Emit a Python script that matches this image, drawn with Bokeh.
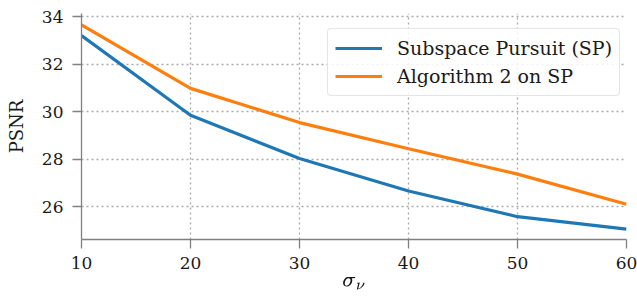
from bokeh.plotting import figure
from bokeh.models import Range1d, FixedTicker, Legend, LegendItem, TeX
from bokeh.embed import file_html
from bokeh.resources import INLINE

sigma = [10, 20, 30, 40, 50, 60]
sp = [33.20, 29.85, 28.03, 26.66, 25.58, 25.06]
alg2 = [33.65, 30.98, 29.54, 28.44, 27.37, 26.10]
x_ticks = [10, 20, 30, 40, 50, 60]
y_ticks = [26, 28, 30, 32, 34]
names = ["Subspace Pursuit (SP)", "Algorithm 2 on SP"]
colors = ["#1f77b4", "#ff7f0e"]
x_label = r"\sigma_\nu"
y_label = "PSNR"

FONT = "DejaVu Serif"
Y0, Y1 = 24.62, 34.13

p = figure(width=637, height=303, output_backend="svg", toolbar_location=None,
           x_range=Range1d(10, 60), y_range=Range1d(Y0, Y1),
           min_border_left=81, min_border_right=11, min_border_top=13, min_border_bottom=64)
p.outline_line_color = None
p.background_fill_color = "white"

r1 = p.line(sigma, sp, line_color=colors[0], line_width=3.2)
r2 = p.line(sigma, alg2, line_color=colors[1], line_width=3.2)

for ax in (p.xaxis[0], p.yaxis[0]):
    ax.axis_line_color = "#808080"
    ax.axis_line_width = 1.3
    ax.major_tick_line_color = "#808080"
    ax.major_tick_line_width = 1.3
    ax.major_tick_out = 9
    ax.major_tick_in = 0
    ax.minor_tick_line_color = None
    ax.major_label_text_font = FONT
    ax.major_label_text_font_size = "17px"
    ax.major_label_text_color = "#1a1a1a"
    ax.axis_label_text_font = FONT
    ax.axis_label_text_font_size = "18px"
    ax.axis_label_text_font_style = "normal"
    ax.axis_label_text_color = "#1a1a1a"

p.xaxis.ticker = FixedTicker(ticks=x_ticks)
p.yaxis.ticker = FixedTicker(ticks=y_ticks)
p.xaxis.major_label_standoff = 8
p.yaxis.major_label_standoff = 9
p.yaxis.axis_label = y_label
p.yaxis.axis_label_standoff = 12
p.xaxis.axis_label = TeX(text=x_label)
p.xaxis.axis_label_standoff = 5
p.xaxis.axis_label_text_font_size = "19px"

for g in (p.xgrid[0], p.ygrid[0]):
    g.grid_line_color = "#aaaaaa"
    g.grid_line_dash = "2 3"
    g.grid_line_width = 1.3

p.xgrid.ticker = FixedTicker(ticks=x_ticks)
p.ygrid.ticker = FixedTicker(ticks=y_ticks)

legend = Legend(items=[LegendItem(label=names[0], renderers=[r1]),
                       LegendItem(label=names[1], renderers=[r2])],
                location=(246, 143))
legend.margin = 0
legend.padding = 7
legend.spacing = 4
legend.glyph_width = 47
legend.glyph_height = 24
legend.label_standoff = 15
legend.label_text_font = FONT
legend.label_text_font_size = "19px"
legend.label_text_color = "#1a1a1a"
legend.border_line_color = "#cccccc"
legend.border_line_width = 1.5
legend.border_radius = 4
legend.background_fill_alpha = 0.85
p.add_layout(legend)

open("out.html", "w").write(file_html(p, INLINE))
